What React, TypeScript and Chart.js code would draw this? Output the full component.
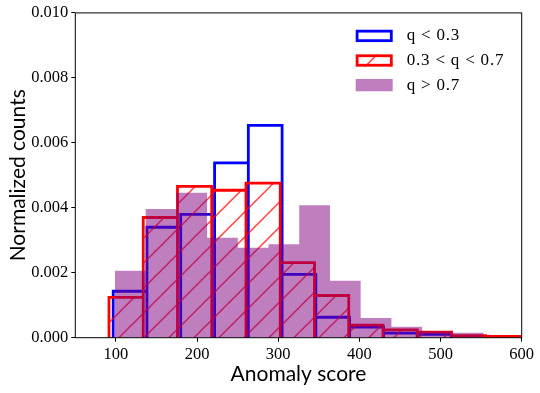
import React, { useEffect, useRef } from 'react';
import { Chart, registerables } from 'chart.js';

Chart.register(...registerables);

// ---- data ----
const X_TICKS = [100, 200, 300, 400, 500, 600];
const Y_TICKS = [0, 0.002, 0.004, 0.006, 0.008, 0.01];

const LOW_LABEL = 'q < 0.3';
const LOW_EDGES = [96.7, 138.3, 179.9, 221.6, 263.2, 304.8, 346.4, 388.0, 429.7, 471.3, 512.9];
const LOW_VALUES = [0.00143, 0.0034, 0.0038, 0.00538, 0.00654, 0.00195, 0.00063, 0.00033, 0.00014, 0.0001];

const MID_LABEL = '0.3 < q < 0.7';
const MID_EDGES = [91.5, 133.7, 175.9, 218.1, 260.3, 302.5, 344.7, 386.9, 429.1, 471.3, 513.5, 555.7, 597.9];
const MID_VALUES = [0.00124, 0.0037, 0.00466, 0.00454, 0.00476, 0.00231, 0.0013, 0.00039, 0.00024, 0.00017, 0.00006, 0.00004];

const HIGH_LABEL = 'q > 0.7';
const HIGH_EDGES = [98.8, 136.7, 174.5, 212.4, 250.2, 288.1, 325.9, 363.8, 401.6, 439.5, 477.3, 515.2, 553.0];
const HIGH_VALUES = [0.00206, 0.00396, 0.00446, 0.00308, 0.00277, 0.00288, 0.00408, 0.00175, 0.00061, 0.00034, 0.0002, 0.00015];

const X_TITLE = 'Anomaly score';
const Y_TITLE = 'Normalized counts';

// ---- styles ----
const BLUE = 'rgb(0,0,255)';
const RED = 'rgb(255,0,0)';
const PURPLE = 'rgba(128,0,128,0.5)';
const SERIF = '"Liberation Serif", "DejaVu Serif", serif';
const SANS = 'Lato, "DejaVu Sans", sans-serif';

// histogram rectangles traced as one outline path (edges + heights -> points)
function outline(edges: number[], values: number[]) {
  const pts: { x: number; y: number }[] = [];
  values.forEach((v, i) => {
    pts.push({ x: edges[i], y: 0 }, { x: edges[i], y: v }, { x: edges[i + 1], y: v }, { x: edges[i + 1], y: 0 });
  });
  return pts;
}

function makeHatch(color: string, size: number, lw: number, phase: number): CanvasPattern | string {
  const c = document.createElement('canvas');
  c.width = size;
  c.height = size;
  const g = c.getContext('2d');
  if (!g) return 'rgba(0,0,0,0)';
  g.strokeStyle = color;
  g.lineWidth = lw;
  g.beginPath();
  for (let k = 0; k <= 2; k++) {
    g.moveTo(-2, k * size + 2);
    g.lineTo(k * size + 2, -2);
  }
  g.stroke();
  const p = g.createPattern(c, 'repeat');
  if (!p) return 'rgba(0,0,0,0)';
  p.setTransform(new DOMMatrix().translate(phase, 0));
  return p;
}

const framePlugin = {
  id: 'frame',
  afterDatasetsDraw(chart: any) {
    const { ctx, chartArea: a } = chart;
    ctx.save();
    ctx.strokeStyle = '#000';
    ctx.lineWidth = 1;
    ctx.strokeRect(a.left, a.top, a.right - a.left, a.bottom - a.top);
    ctx.restore();
  },
};

const legendPlugin = {
  id: 'insideLegend',
  afterDraw(chart: any) {
    const { ctx, chartArea: a } = chart;
    const hw = 37;
    const hh = 12.3;
    const hx = a.right - 166;
    const tx = a.right - 115;
    ctx.save();
    chart.data.datasets.forEach((ds: any, i: number) => {
      const cy = a.top + 23 + i * 24.6;
      const top = cy - hh / 2;
      if (ds.fill) {
        ctx.fillStyle = ds.backgroundColor;
        ctx.fillRect(hx, top, hw, hh);
      }
      if (ds.borderWidth > 0) {
        const w = ds.borderWidth;
        ctx.strokeStyle = ds.borderColor;
        ctx.lineWidth = w;
        ctx.lineJoin = 'miter';
        ctx.strokeRect(hx + w / 2, top + w / 2, hw - w, hh - w);
      }
      ctx.fillStyle = '#000';
      ctx.font = '17px ' + SERIF;
      try {
        (ctx as any).letterSpacing = '0.8px';
      } catch (e) {
        /* ignore */
      }
      ctx.textAlign = 'left';
      ctx.textBaseline = 'middle';
      ctx.fillText(ds.label, tx, cy);
    });
    ctx.restore();
  },
};

export default function App() {
  const ref = useRef<HTMLCanvasElement>(null);

  useEffect(() => {
    document.body.style.margin = '0';
    const canvas = ref.current;
    if (!canvas) return;
    const hatch = makeHatch(RED, 25, 1.2, 6.6);

    const tickFont = { family: SERIF, size: 16.5 };
    const titleFont = { family: SANS, size: 21, lineHeight: 1 };
    const gridOpts = {
      display: true,
      drawOnChartArea: false,
      drawTicks: true,
      tickLength: 4,
      tickColor: '#000',
      tickWidth: 1,
    };

    const chart = new Chart(canvas, {
      type: 'line',
      data: {
        datasets: [
          {
            label: LOW_LABEL,
            data: outline(LOW_EDGES, LOW_VALUES),
            borderColor: BLUE,
            backgroundColor: 'rgba(0,0,0,0)',
            borderWidth: 2.8,
            fill: false,
            pointRadius: 0,
            borderJoinStyle: 'miter',
            borderCapStyle: 'butt',
            order: 3,
            clip: 0,
          },
          {
            label: MID_LABEL,
            data: outline(MID_EDGES, MID_VALUES),
            borderColor: RED,
            backgroundColor: hatch as any,
            borderWidth: 2.8,
            fill: 'origin',
            pointRadius: 0,
            borderJoinStyle: 'miter',
            borderCapStyle: 'butt',
            order: 2,
            clip: 0,
          },
          {
            label: HIGH_LABEL,
            data: outline(HIGH_EDGES, HIGH_VALUES),
            borderColor: 'rgba(0,0,0,0)',
            backgroundColor: PURPLE,
            borderWidth: 0,
            fill: 'origin',
            pointRadius: 0,
            order: 1,
            clip: 0,
          },
        ],
      },
      options: {
        animation: false,
        responsive: false,
        devicePixelRatio: 1,
        events: [],
        layout: { padding: { top: 12.7, right: 18.3, left: 0, bottom: 0 } },
        plugins: { legend: { display: false }, tooltip: { enabled: false } },
        scales: {
          x: {
            type: 'linear',
            min: 50,
            max: 600,
            afterBuildTicks: (s: any) => {
              s.ticks = X_TICKS.map((v) => ({ value: v }));
            },
            afterFit: (s: any) => {
              s.height = 55.3;
            },
            grid: gridOpts,
            border: { display: false },
            ticks: { color: '#000', font: tickFont, padding: 3, maxRotation: 0, autoSkip: false },
            title: { display: true, text: X_TITLE, color: '#000', font: titleFont, padding: { top: 0, bottom: 8 } },
          },
          y: {
            type: 'linear',
            min: 0,
            max: 0.01,
            afterBuildTicks: (s: any) => {
              s.ticks = Y_TICKS.map((v) => ({ value: v }));
            },
            afterFit: (s: any) => {
              s.width = 75.3;
            },
            grid: gridOpts,
            border: { display: false },
            ticks: {
              color: '#000',
              font: tickFont,
              padding: 3,
              autoSkip: false,
              callback: (v: any) => Number(v).toFixed(3),
            },
            title: { display: true, text: Y_TITLE, color: '#000', font: titleFont, padding: { top: 8, bottom: 0 } },
          },
        },
      } as any,
      plugins: [framePlugin, legendPlugin],
    });

    return () => chart.destroy();
  }, []);

  return (
    <div style={{ width: 540, height: 393 }}>
      <canvas ref={ref} width={540} height={393} style={{ display: 'block' }} />
    </div>
  );
}
